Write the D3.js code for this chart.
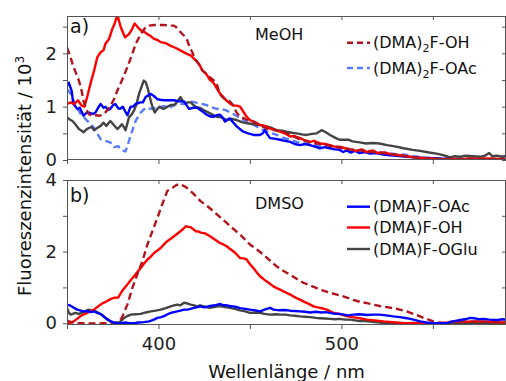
<!DOCTYPE html>
<html><head><meta charset="utf-8">
<script src="https://cdn.jsdelivr.net/npm/d3@7"></script>
<style>html,body{margin:0;padding:0;background:#fff;}svg{display:block;}</style>
</head><body><svg id="c" width="506" height="381"></svg>
<script>
// ---------- DATA (wavelength nm, intensity /10^3) ----------
const xTickValues = [350, 400, 450, 500, 550];
const xTickLabels = [400, 500];
const topYTicks = [0, 0.5, 1, 1.5, 2, 2.5];
const topYLabels = [0, 1, 2];
const botYTicks = [0, 1, 2, 3, 4];
const botYLabels = [0, 2, 4];
const panelNames = ["a)", "b)"];
const solventNames = ["MeOH", "DMSO"];
const legendTop = ["(DMA)2F-OH", "(DMA)2F-OAc"];
const legendBot = ["(DMA)F-OAc", "(DMA)F-OH", "(DMA)F-OGlu"];

// MeOH panel
const meoh_F_OH = [[350,1.05],[352,1.08],[354,1.05],[356,1.12],[358,1.02],[359.5,1.0],[361,1.18],[363,1.45],[365,1.7],[366.6,1.93],[368.4,2.02],[370,2.06],[371,2.18],[373,2.27],[374.8,2.46],[376,2.55],[377.5,2.72],[379.4,2.49],[381.7,2.3],[383.9,2.36],[385.5,2.45],[387,2.56],[388.5,2.5],[390.3,2.43],[392,2.41],[393.9,2.36],[395.5,2.33],[397.6,2.27],[399.5,2.25],[401.2,2.21],[404,2.19],[406.7,2.14],[409.5,2.1],[412.2,2.05],[415,2.0],[417.6,1.96],[420,1.88],[422.2,1.8],[424,1.68],[426,1.62],[428.2,1.5],[430,1.45],[431.8,1.35],[433.6,1.25],[435.5,1.18],[437,1.12],[439,1.06],[441,1.02],[443,1.02],[444.6,1.0],[446.5,0.9],[448,0.82],[450,0.75],[452,0.72],[455.5,0.66],[458,0.64],[461,0.59],[463,0.57],[466.5,0.53],[469,0.5],[472,0.44],[474,0.45],[477.4,0.41],[480,0.37],[482.9,0.34],[485,0.36],[488.3,0.31],[491,0.3],[493.8,0.28],[496,0.25],[499,0.25],[502,0.22],[505,0.2],[508,0.17],[511,0.2],[514,0.15],[517,0.18],[520,0.13],[524,0.14],[528,0.1],[532,0.09],[536,0.07],[540,0.05],[544,0.04],[548,0.03],[552,0.02],[556,0.01],[560,0.02],[565,0.01],[570,0.03],[575,0.02],[580,0.03],[585,0.02],[590,0.02]];
const meoh_DMA2_OH = [[350,2.11],[352,1.92],[353,1.8],[355,1.62],[356.5,1.49],[358,1.3],[359,1.11],[360.5,0.95],[362,0.86],[364,0.82],[366,0.84],[368,0.83],[370,0.86],[372,0.93],[374,1.03],[375.7,1.14],[377.5,1.3],[380,1.49],[383,1.74],[385.7,1.99],[387.6,2.18],[390.3,2.36],[393,2.49],[395,2.52],[397.6,2.53],[400,2.53],[403,2.53],[406,2.52],[408.5,2.52],[410,2.48],[412,2.4],[414,2.33],[415.8,2.24],[417,2.12],[418.5,2.02],[420,1.9],[422,1.8],[424,1.68],[427,1.58],[430,1.5],[431.8,1.44],[433.6,1.23],[436,1.15],[439,1.1],[441,1.02],[442.5,0.9],[444.6,0.81],[448,0.76],[451.9,0.72],[455,0.66],[459,0.59],[463,0.56],[468,0.53],[472,0.47],[477,0.39],[482,0.34],[486.7,0.31],[491,0.29],[495.8,0.25],[500,0.23],[505,0.2],[510,0.18],[515,0.16],[520,0.14],[525,0.12],[530,0.1],[535,0.07],[540,0.05],[545,0.03],[550,0.02],[560,0.02],[570,0.02],[580,0.02],[590,0.01]];
const meoh_F_OAc = [[350,1.39],[351,1.45],[352.5,1.3],[353.5,1.05],[355.6,0.96],[357,0.98],[359,0.83],[360.5,0.88],[362,0.89],[364,0.86],[365.6,0.89],[367,0.98],[368.4,1.05],[370,0.98],[371,1.0],[372.5,0.94],[373.7,0.96],[375,1.02],[376.4,1.05],[378,0.97],[379,0.96],[380.5,1.0],[382,0.9],[383,0.84],[384.8,1.0],[386,1.0],[387.6,1.05],[390,1.08],[391.5,1.08],[393,1.18],[395.8,1.24],[397.5,1.2],[399.4,1.14],[401,1.13],[403,1.12],[406,1.12],[408.5,1.12],[411,1.1],[414,1.1],[415.5,1.02],[416.7,0.96],[419,0.98],[421.3,0.98],[422.7,0.94],[424.5,0.9],[426.3,0.85],[428,0.82],[430,0.81],[432,0.84],[433.6,0.85],[435,0.8],[436.4,0.72],[438,0.76],[439,0.78],[441,0.7],[442.8,0.63],[444.5,0.58],[446.4,0.53],[449,0.5],[452,0.47],[455.5,0.47],[457,0.5],[458.2,0.56],[459.5,0.48],[461,0.41],[463.5,0.4],[466.5,0.38],[469,0.36],[472,0.34],[474.5,0.3],[477.4,0.28],[480,0.3],[482.9,0.28],[485.5,0.25],[488.3,0.22],[491,0.24],[493.8,0.22],[496.5,0.2],[499,0.19],[501,0.15],[503,0.18],[505,0.14],[507.5,0.17],[510,0.13],[513,0.15],[515.7,0.12],[519,0.13],[523,0.1],[526.6,0.09],[530,0.08],[535.7,0.06],[540,0.05],[545,0.04],[552,0.03],[558,0.02],[565,0.01],[572,0.02],[580,0.01],[590,0.02]];
const meoh_F_OGlu = [[350,0.8],[351.5,0.76],[353,0.73],[355,0.65],[356.5,0.58],[358,0.55],[359,0.52],[360.5,0.57],[362,0.6],[363.5,0.62],[364.7,0.56],[366.5,0.6],[368.4,0.64],[370,0.7],[371.5,0.64],[373.7,0.73],[375.5,0.66],[377.5,0.58],[379,0.63],[380,0.67],[381,0.62],[382,0.56],[383.9,0.8],[385.5,0.86],[386.7,0.93],[388,1.05],[389.4,1.24],[391,1.4],[392,1.49],[393,1.46],[394,1.36],[395,1.22],[396,1.08],[397,0.97],[398,0.89],[399,0.94],[400.5,1.0],[402,0.97],[403,0.96],[405,1.0],[406.7,1.03],[408.5,1.03],[410,1.08],[412,1.18],[413.5,1.1],[414.8,1.06],[416,1.08],[417.6,1.08],[419.5,1.02],[421.3,0.98],[422.7,0.98],[424.5,0.94],[426.3,0.91],[429,0.86],[431.8,0.81],[434.5,0.8],[437.3,0.75],[440,0.77],[442.8,0.75],[445.5,0.71],[448.2,0.69],[451,0.68],[453.7,0.66],[456.5,0.65],[459,0.63],[462,0.6],[464.7,0.56],[467.5,0.55],[470,0.53],[473,0.51],[475.6,0.5],[478.3,0.48],[481,0.47],[484,0.49],[486.5,0.5],[489.2,0.56],[491.5,0.52],[493.8,0.47],[496.5,0.42],[499,0.38],[503.8,0.38],[506,0.35],[510,0.33],[513.5,0.31],[517,0.32],[520.8,0.31],[525,0.28],[530,0.25],[534,0.22],[539,0.19],[543,0.17],[548,0.14],[552,0.12],[555.6,0.09],[557.5,0.07],[559.3,0.05],[562,0.07],[565,0.06],[568,0.08],[572,0.07],[576,0.06],[578.5,0.08],[580.8,0.13],[582.5,0.07],[585,0.08],[588,0.06],[590,0.08]];
const meoh_DMA2_OAc = [[350,1.33],[352,1.24],[354.6,1.03],[357.5,0.86],[361,0.74],[364.7,0.61],[366.6,0.49],[368.4,0.39],[371,0.36],[373.7,0.33],[375.7,0.24],[378,0.26],[380,0.18],[382,0.16],[383.9,0.36],[385.7,0.55],[387.6,0.74],[390.3,0.89],[393,0.98],[395.8,0.96],[399.4,0.98],[403,1.01],[406.5,0.99],[410.3,1.06],[414,1.05],[417.6,1.1],[421.3,1.07],[424,1.05],[426.3,1.03],[429,0.99],[431.8,0.96],[436.4,0.94],[440,0.88],[443,0.82],[446.4,0.75],[449,0.7],[452,0.66],[455,0.6],[457.4,0.56],[461,0.51],[464.7,0.47],[468,0.42],[472,0.38],[475.5,0.34],[479,0.31],[482.5,0.3],[486.5,0.28],[490,0.25],[493.8,0.22],[497,0.23],[501,0.22],[505,0.2],[510,0.18],[515,0.16],[520,0.15],[525,0.13],[530,0.11],[535,0.1],[540,0.07],[545,0.05],[550,0.04],[555,0.03],[560,0.02],[570,0.02],[580,0.02],[590,0.02]];

// DMSO panel
const dmso_F_OH = [[350,0.0],[352,0.02],[353.7,0.05],[355.5,0.12],[357.5,0.2],[359,0.24],[361,0.29],[363,0.33],[364.7,0.38],[366.5,0.45],[368.4,0.52],[370,0.57],[372,0.62],[374,0.68],[375.7,0.71],[378,0.72],[380,0.89],[383,1.08],[384.8,1.2],[386.6,1.31],[388.5,1.43],[390.3,1.54],[392,1.66],[394,1.78],[395.8,1.86],[397.6,1.96],[399.4,2.03],[401.2,2.1],[403,2.2],[404.8,2.29],[406.7,2.36],[408.5,2.43],[410.3,2.5],[412,2.57],[413.5,2.63],[414.9,2.71],[416.3,2.69],[417.6,2.68],[419,2.63],[420.3,2.57],[422,2.56],[423,2.53],[425.5,2.51],[428.2,2.43],[431,2.33],[433.6,2.24],[435.5,2.2],[437.3,2.15],[439,2.08],[440.9,2.01],[442.8,1.92],[444.6,1.82],[446.5,1.81],[448.2,1.78],[450,1.65],[451.9,1.54],[453.7,1.42],[455.5,1.31],[457.3,1.24],[459,1.17],[461,1.1],[462.8,1.03],[464.7,0.98],[466.5,0.94],[468.3,0.89],[470,0.85],[472,0.8],[473.7,0.75],[475.5,0.7],[477.4,0.66],[479.2,0.61],[481,0.57],[483,0.52],[484.7,0.47],[486.5,0.45],[488.3,0.43],[490,0.41],[492,0.38],[494,0.33],[495.6,0.29],[497.5,0.27],[499.3,0.25],[503,0.2],[506,0.17],[510,0.14],[514,0.1],[518,0.08],[523,0.05],[528,0.03],[533,0.01],[537,0.0],[545,0.0],[552,0.0],[558,0.02],[563,0.05],[568,0.04],[573,0.05],[578,0.05],[582,0.04],[586,0.03],[590,0.02]];
const dmso_DMA2_OH = [[350,0.08],[351,0.05],[353,0.02],[355.6,0.0],[360,0.0],[365,-0.01],[370,0.0],[375,0.0],[377.5,0.02],[380,0.15],[383,0.52],[385.7,0.98],[388.4,1.36],[391.2,1.73],[394,2.2],[396.7,2.57],[399.4,2.94],[402,3.31],[404.8,3.69],[407.6,3.78],[409.5,3.85],[411.2,3.89],[412.5,3.87],[414,3.83],[416,3.76],[417.6,3.69],[419.5,3.6],[421.3,3.5],[423,3.41],[426.5,3.28],[430,3.13],[433.5,2.97],[437.3,2.8],[441,2.63],[444.6,2.48],[447.5,2.33],[450,2.2],[454,2.05],[457.3,1.92],[461,1.75],[464.6,1.59],[468,1.47],[471.8,1.36],[475.5,1.24],[479.2,1.13],[483,1.05],[486.5,0.98],[490,0.91],[493.8,0.85],[497.5,0.8],[501,0.75],[506.5,0.65],[510,0.6],[513.9,0.56],[517.5,0.52],[521,0.48],[525,0.45],[528.4,0.42],[532,0.38],[535.7,0.33],[539.5,0.26],[543,0.19],[546.5,0.12],[550.3,0.05],[553,0.02],[555.8,0.0],[558,0.02],[561,0.05],[565,0.05],[570,0.04],[575,0.04],[580,0.03],[585,0.02],[590,0.01]];
const dmso_F_OAc = [[350,0.52],[351.5,0.5],[353.5,0.44],[355.6,0.38],[357.5,0.35],[359,0.33],[361,0.34],[363,0.31],[364.7,0.33],[366.6,0.29],[368.5,0.25],[370,0.19],[372,0.12],[374,0.05],[375.7,0.02],[377.5,0.0],[380,0.0],[382,0.02],[384,0.0],[386.7,0.0],[389,0.02],[392,0.03],[395,0.05],[397.5,0.1],[399.4,0.15],[401.5,0.17],[403,0.2],[405,0.25],[406.7,0.29],[408.5,0.31],[410.3,0.33],[412,0.35],[414,0.38],[416,0.38],[417.5,0.4],[419.4,0.43],[421.3,0.45],[423,0.47],[425,0.44],[428.2,0.48],[431,0.5],[433.6,0.54],[435.5,0.5],[437.3,0.5],[439,0.48],[442,0.46],[444.6,0.42],[447.5,0.4],[450,0.38],[453,0.36],[455.5,0.33],[458,0.38],[461,0.43],[463,0.38],[466,0.36],[469,0.37],[472,0.35],[474.5,0.34],[477.4,0.33],[480,0.32],[483,0.3],[486,0.32],[489,0.3],[491.5,0.31],[493.8,0.29],[496.5,0.26],[499.3,0.26],[503.6,0.22],[506.5,0.24],[510,0.25],[514,0.23],[517.5,0.24],[521,0.24],[524.5,0.22],[528.4,0.19],[532,0.17],[535.7,0.14],[539.5,0.1],[543,0.05],[546.5,0.02],[550.3,0.0],[554,0.0],[557.6,0.0],[561,0.05],[565,0.09],[568.5,0.12],[570.5,0.15],[572.4,0.14],[575,0.11],[578,0.12],[581,0.1],[585.5,0.09],[588,0.11],[590,0.1]];
const dmso_F_OGlu = [[350,0.43],[351,0.3],[352,0.24],[353.5,0.27],[354.6,0.29],[356.5,0.26],[358,0.29],[360,0.33],[361.8,0.38],[363.5,0.35],[365.6,0.33],[367.5,0.28],[369,0.24],[370.5,0.17],[372,0.1],[374,0.04],[375.7,0.0],[378.4,0.02],[380,0.08],[381,0.14],[383,0.2],[384.8,0.24],[387.5,0.25],[390.3,0.26],[393,0.3],[395.8,0.33],[398.5,0.35],[401.2,0.38],[404,0.42],[406.7,0.47],[408.5,0.5],[410.3,0.52],[412,0.5],[414,0.57],[416,0.55],[417.6,0.52],[419.5,0.5],[421.3,0.47],[422.7,0.5],[425.5,0.46],[428.2,0.43],[431,0.46],[433.6,0.48],[436.5,0.45],[439,0.43],[441.8,0.4],[444.6,0.36],[447.5,0.33],[450,0.29],[453,0.3],[455.5,0.29],[458,0.26],[461,0.24],[464,0.25],[467,0.24],[469.5,0.24],[472,0.22],[474.7,0.21],[477.4,0.19],[480,0.18],[483,0.17],[486,0.15],[488.3,0.14],[491,0.13],[494,0.12],[496.5,0.11],[499,0.12],[502,0.1],[505,0.1],[507.5,0.08],[510,0.06],[513,0.06],[517,0.04],[521,0.02],[524.8,0.0],[530,0.01],[535,0.0],[540,0.01],[545,0.0],[550,0.0],[555,0.0],[560,0.0],[570,0.0],[580,0.0],[590,0.0]];

// ---------- STYLES ----------
const C_RED = "#ff0000", C_DRED = "#b3141b", C_BLUE = "#0000ff", C_LBLUE = "#5b7bff", C_GRAY = "#444444";
const FONT = "'DejaVu Sans', sans-serif";
const AXIS_COL = "#555";

const svg = d3.select("#c");
const L = 67, R = 506;
const x = d3.scaleLinear().domain([350, 590]).range([L, R]);
const yTop = d3.scaleLinear().domain([0, 2.7]).range([160, 16]);
const yBot = d3.scaleLinear().domain([-0.05, 4]).range([325, 180]);

const defs = svg.append("defs");
function clip(id, y0, y1) {
  defs.append("clipPath").attr("id", id).append("rect")
    .attr("x", L).attr("y", y0).attr("width", R - L).attr("height", y1 - y0);
}
clip("clipTop", 16, 160);
clip("clipBot", 180, 325);

function drawPanel(y, clipId, series, yTicks, yLabels, showXLabels) {
  const g = svg.append("g");
  const [y0, y1] = [y.range()[1], y.range()[0]];
  const styleAxis = sel => {
    sel.select(".domain").remove();
    sel.selectAll(".tick line").attr("stroke", AXIS_COL).attr("stroke-width", 1);
    sel.selectAll("text").attr("font-family", FONT).attr("font-size", 18).attr("fill", "#222");
  };
  // left
  g.append("g").attr("transform", `translate(${L},0)`)
    .call(d3.axisLeft(y).tickValues(yTicks).tickSize(4).tickPadding(6)
      .tickFormat(d => yLabels.includes(d) ? d : ""))
    .call(styleAxis);
  // right (inward)
  g.append("g").attr("transform", `translate(${R},0)`)
    .call(d3.axisRight(y).tickValues(yTicks).tickSize(-4).tickFormat(""))
    .call(styleAxis);
  // bottom
  g.append("g").attr("transform", `translate(0,${y1})`)
    .call(d3.axisBottom(x).tickValues(xTickValues).tickSize(4).tickPadding(8)
      .tickFormat(d => showXLabels && xTickLabels.includes(d) ? d : ""))
    .call(styleAxis);
  // top (inward)
  g.append("g").attr("transform", `translate(0,${y0})`)
    .call(d3.axisTop(x).tickValues(xTickValues).tickSize(-4).tickFormat(""))
    .call(styleAxis);

  const line = d3.line().x(d => x(d[0])).y(d => y(d[1]));
  const lg = g.append("g").attr("clip-path", `url(#${clipId})`);
  series.forEach(s => {
    lg.append("path").datum(s.data).attr("d", line)
      .attr("fill", "none").attr("stroke", s.color).attr("stroke-width", 2.4)
      .attr("stroke-linejoin", "round")
      .attr("stroke-dasharray", s.dash || null);
  });
  // frame
  g.append("rect").attr("x", L + 0.5).attr("y", y0 + 0.5).attr("width", R - L - 1).attr("height", y1 - y0 - 1)
    .attr("fill", "none").attr("stroke", AXIS_COL).attr("stroke-width", 1);
  return g;
}

const DASH = "7,4";
drawPanel(yTop, "clipTop", [
  {data: meoh_DMA2_OAc, color: C_LBLUE, dash: DASH},
  {data: meoh_F_OGlu, color: C_GRAY},
  {data: meoh_F_OAc, color: C_BLUE},
  {data: meoh_F_OH, color: C_RED},
  {data: meoh_DMA2_OH, color: C_DRED, dash: DASH}
], topYTicks, topYLabels, false);

drawPanel(yBot, "clipBot", [
  {data: dmso_F_OGlu, color: C_GRAY},
  {data: dmso_F_OH, color: C_RED},
  {data: dmso_DMA2_OH, color: C_DRED, dash: DASH},
  {data: dmso_F_OAc, color: C_BLUE}
], botYTicks, botYLabels, true);

// panel labels & solvents
const txt = (s, xx, yy, size) => svg.append("text").attr("x", xx).attr("y", yy)
  .attr("font-family", FONT).attr("font-size", size).attr("fill", "#111").text(s);
txt(panelNames[0], 70, 33, 19);
txt(panelNames[1], 70, 202, 19);
txt(solventNames[0], 255, 40, 16);
txt(solventNames[1], 255, 209, 16);

// legends
function legendItem(label, yy, color, dash) {
  svg.append("line").attr("x1", 347).attr("x2", 370).attr("y1", yy).attr("y2", yy)
    .attr("stroke", color).attr("stroke-width", 2.4).attr("stroke-dasharray", dash || null);
  const t = svg.append("text").attr("x", 373).attr("y", yy + 5.5)
    .attr("font-family", FONT).attr("font-size", 16).attr("fill", "#111");
  const m = label.match(/^\(DMA\)2(.*)$/);
  if (m) {
    t.append("tspan").text("(DMA)");
    t.append("tspan").attr("font-size", 11).attr("dy", 4).text("2");
    t.append("tspan").attr("dy", -4).text(m[1]);
  } else t.text(label);
}
legendItem(legendTop[0], 42.7, C_DRED, "6,4");
legendItem(legendTop[1], 68, C_LBLUE, "6,4");
legendItem(legendBot[0], 206.7, C_BLUE);
legendItem(legendBot[1], 227.5, C_RED);
legendItem(legendBot[2], 249, C_GRAY);

// axis titles
svg.append("text").attr("x", 286.5).attr("y", 378).attr("text-anchor", "middle")
  .attr("font-family", FONT).attr("font-size", 18).attr("fill", "#111").text("Wellenlänge / nm");
const yt = svg.append("text").attr("transform", "translate(31,176) rotate(-90)").attr("text-anchor", "middle")
  .attr("font-family", FONT).attr("font-size", 18).attr("fill", "#111");
yt.append("tspan").text("Fluoreszenzintensität / 10");
yt.append("tspan").attr("font-size", 12).attr("dy", -7).text("3");
</script></body></html>
